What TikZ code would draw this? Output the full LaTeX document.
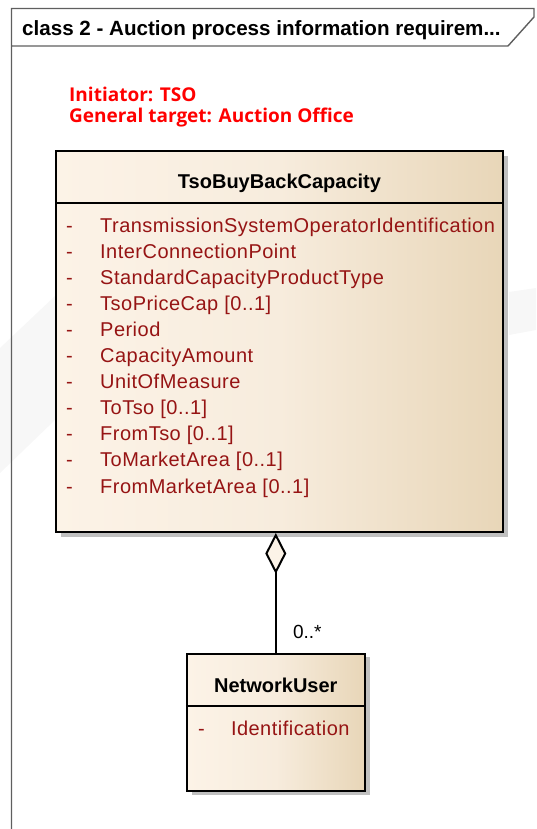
\documentclass[tikz,border=0pt]{standalone}
\usepackage{fontspec}
\setmainfont{Liberation Sans}
\newfontfamily\attrfont{Liberation Sans}[LetterSpace=2.4]
\newfontfamily\notefont{Open Sans}
\usetikzlibrary{positioning,calc,arrows.meta}
\definecolor{classcream}{RGB}{252,243,231}
\definecolor{classmid}{RGB}{247,236,221}
\definecolor{classtan}{RGB}{232,214,184}
\definecolor{attrred}{RGB}{150,20,20}
\definecolor{shadowgray}{RGB}{192,192,192}
\definecolor{framegray}{RGB}{95,95,95}
\tikzset{
    umlclass/.style={rectangle, draw=black, line width=2pt, inner sep=0pt, left color=classcream, right color=classtan, middle color=classmid},
    umlshadow/.style={fill=shadowgray},
    umlname/.style={font=\fontsize{20}{24}\selectfont\bfseries, inner sep=0pt},
    umlattr/.style={font=\attrfont\fontsize{20}{24}\selectfont, text=attrred, inner sep=0pt},
    umlmult/.style={font=\fontsize{19}{23}\selectfont, inner sep=0pt},
    framepen/.style={draw=framegray, line width=1.4pt},
    framename/.style={font=\fontsize{20.6}{24}\selectfont\bfseries, inner sep=0pt},
    notetext/.style={font=\notefont\bfseries\fontsize{19}{23}\selectfont, text=red, inner sep=0pt},
    aggregation/.style={line width=2pt, -{Diamond[length=41pt, width=21pt, fill=classcream]}}
}
\begin{document}
\begin{tikzpicture}[x=1pt, y=-1pt]
    \useasboundingbox (0,0) rectangle (536,829);

    % faint background marks
    \fill[black!3] (0,348) -- (55,296) -- (55,420) -- (0,473) -- cycle;
    \fill[black!3] (509,292) -- (536,288) -- (536,330) -- (509,335) -- cycle;

    % Diagram frame
    \draw[framepen] (11.5,829) -- (11.5,8.5) -- (534,8.5) -- (534,17) -- (508,46) -- (11.5,46);
    \node[framename, anchor=base west] (frameName) at (22,36) {class 2 - Auction process information requirem...};

    % Note
    \node[notetext, anchor=base west] (noteInit) at (69,102) {Initiator: TSO};
    \node[notetext, anchor=base west] (noteTarget) at ($(noteInit.base west)+(0,21)$) {General target: Auction Office};

    % TsoBuyBackCapacity class
    \fill[umlshadow] (61,156) rectangle (508,537);
    \node[umlclass, minimum width=447pt, minimum height=381pt, anchor=north west] (buyBack) at (55,150) {};
    \draw[line width=2pt] ([yshift=-53pt]buyBack.north west) -- ([yshift=-53pt]buyBack.north east);
    \node[umlname, anchor=base] (buyBackName) at ($(buyBack.north)+(0,39)$) {TsoBuyBackCapacity};
    \foreach \attr [count=\i from 0] in {TransmissionSystemOperatorIdentification, InterConnectionPoint,
        StandardCapacityProductType, TsoPriceCap [0..1], Period, CapacityAmount, UnitOfMeasure,
        ToTso [0..1], FromTso [0..1], ToMarketArea [0..1], FromMarketArea [0..1]} {
        \node[umlattr, anchor=base west] (dash\i) at ($(buyBack.north west)+(11,82+26.1*\i)$) {-};
        \node[umlattr, anchor=base west] (attr\i) at ($(buyBack.north west)+(45,82+26.1*\i)$) {\attr};
    }

    % NetworkUser class
    \fill[umlshadow] (191.5,656.5) rectangle (369.5,794.5);
    \node[umlclass, minimum width=178pt, minimum height=137.5pt, below=119.5pt of buyBack, xshift=-3.7pt] (netUser) {};
    \draw[line width=2pt] ([yshift=-53.5pt]netUser.north west) -- ([yshift=-53.5pt]netUser.north east);
    \node[umlname, anchor=base] (netUserName) at ($(netUser.north)+(0,39.5)$) {NetworkUser};
    \node[umlattr, anchor=base west] (netDash) at ($(netUser.north west)+(12,82.5)$) {-};
    \node[umlattr, anchor=base west] (netAttr) at ($(netUser.north west)+(45,82.5)$) {Identification};

    % Aggregation
    \draw[aggregation] (netUser.north) -- (netUser.north |- buyBack.south);
    \node[umlmult, anchor=base west] (multUser) at ($(netUser.north)+(17,-14)$) {0..*};
\end{tikzpicture}
\end{document}
